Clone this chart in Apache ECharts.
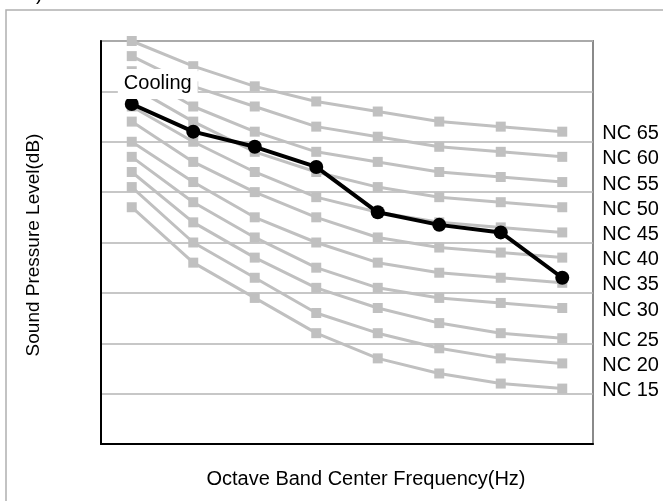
<!DOCTYPE html>
<html>
<head>
<meta charset="utf-8">
<script src="https://cdn.jsdelivr.net/npm/echarts@6/dist/echarts.min.js"></script>
<style>
html,body{margin:0;padding:0;background:#fff;}
#chart{width:663px;height:501px;}
</style>
</head>
<body>
<div id="chart"></div>
<script>
var categories = ['63', '125', '250', '500', '1000', '2000', '4000', '8000'];
var nc65 = [80, 75, 71, 68, 66, 64, 63, 62];
var nc60 = [77, 71, 67, 63, 61, 59, 58, 57];
var nc55 = [74, 67, 62, 58, 56, 54, 53, 52];
var nc50 = [71, 64, 58, 54, 51, 49, 48, 47];
var nc45 = [67, 60, 54, 49, 46, 44, 43, 42];
var nc40 = [64, 56, 50, 45, 41, 39, 38, 37];
var nc35 = [60, 52, 45, 40, 36, 34, 33, 32];
var nc30 = [57, 48, 41, 35, 31, 29, 28, 27];
var nc25 = [54, 44, 37, 31, 27, 24, 22, 21];
var nc20 = [51, 40, 33, 26, 22, 19, 17, 16];
var nc15 = [47, 36, 29, 22, 17, 14, 12, 11];
var cooling = [67.5, 62, 59, 55, 46, 43.5, 42, 33];
var ncNames = ['NC 65', 'NC 60', 'NC 55', 'NC 50', 'NC 45', 'NC 40', 'NC 35', 'NC 30', 'NC 25', 'NC 20', 'NC 15'];
var ncData = [nc65, nc60, nc55, nc50, nc45, nc40, nc35, nc30, nc25, nc20, nc15];
var coolingName = 'Cooling';
var xTitle = 'Octave Band Center Frequency(Hz)';
var yTitle = 'Sound Pressure Level(dB)';

var FONT = '"Liberation Sans", Arial, sans-serif';
var chart = echarts.init(document.getElementById('chart'), null, {renderer: 'canvas'});

var series = ncData.map(function (d, i) {
  return {
    name: ncNames[i],
    type: 'line',
    data: d,
    z: 2,
    symbol: 'rect',
    symbolSize: 10,
    showAllSymbol: true,
    silent: true,
    animation: false,
    lineStyle: {color: '#c0c0c0', width: 3},
    itemStyle: {color: '#c0c0c0'},
    endLabel: {
      show: true,
      formatter: ncNames[i],
      distance: 40,
      offset: [0, 2],
      color: '#000',
      fontSize: 20,
      fontFamily: FONT
    }
  };
});

series.push({
  name: coolingName,
  type: 'line',
  data: cooling.map(function (v, i) {
    if (i === 0) {
      return {
        value: v,
        label: {
          show: true,
          formatter: coolingName,
          position: 'top',
          distance: 0,
          offset: [26, 2],
          color: '#000',
          fontSize: 20,
          fontFamily: FONT,
          lineHeight: 20,
          backgroundColor: '#fff',
          padding: [5, 6]
        }
      };
    }
    return v;
  }),
  z: 5,
  symbol: 'circle',
  symbolSize: 14,
  animation: false,
  lineStyle: {color: '#000', width: 4},
  itemStyle: {color: '#000'}
});

chart.setOption({
  animation: false,
  backgroundColor: '#fff',
  textStyle: {fontFamily: FONT},
  grid: {
    left: 101, top: 41, right: 70, bottom: 57,
    show: true,
    borderColor: '#8a8a8a',
    borderWidth: 2,
    backgroundColor: 'transparent'
  },
  xAxis: {
    type: 'category',
    data: categories,
    boundaryGap: true,
    axisLine: {show: true, lineStyle: {color: '#000', width: 2}},
    axisTick: {show: false},
    axisLabel: {show: false},
    splitLine: {show: false}
  },
  yAxis: {
    type: 'value',
    min: 0, max: 80, interval: 10,
    axisLine: {show: true, lineStyle: {color: '#000', width: 2}},
    axisTick: {show: false},
    axisLabel: {show: false},
    splitLine: {show: true, lineStyle: {color: '#b4b4b4', width: 1.5}}
  },
  series: series,
  graphic: [
    {
      type: 'rect',
      shape: {x: 6, y: 10, width: 800, height: 700},
      style: {fill: 'none', stroke: '#b0b0b0', lineWidth: 1.5},
      silent: true, z: 0
    },
    {
      type: 'text',
      x: 366, y: 479,
      style: {text: xTitle, fontSize: 20, fontFamily: FONT, fill: '#000', align: 'center', verticalAlign: 'middle'},
      silent: true
    },
    {
      type: 'text',
      x: 34, y: 245,
      rotation: Math.PI / 2,
      style: {text: yTitle, fontSize: 19, fontFamily: FONT, fill: '#000', align: 'center', verticalAlign: 'middle'},
      silent: true
    },
    {
      type: 'text',
      x: 36, y: 4,
      style: {text: ')', fontSize: 20, fontFamily: FONT, fill: '#000', align: 'left', verticalAlign: 'bottom'},
      silent: true
    }
  ]
});
</script>
</body>
</html>
